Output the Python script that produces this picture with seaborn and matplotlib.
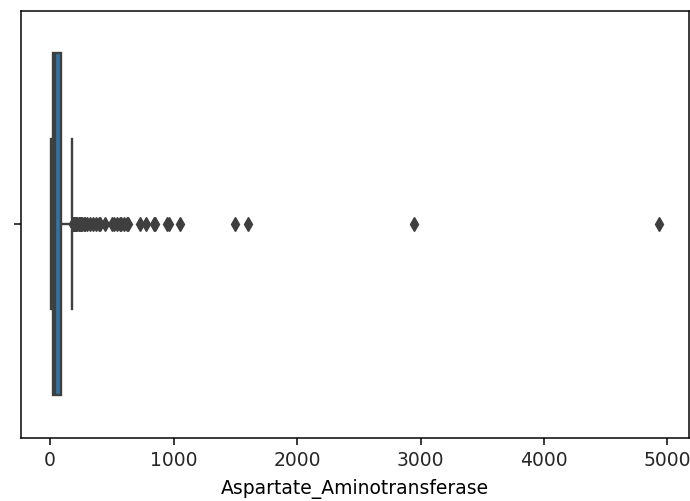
import matplotlib
matplotlib.use("Agg")
import matplotlib.pyplot as plt
import seaborn as sns
import numpy as np
import pandas as pd

# Distribution of Aspartate_Aminotransferase (value, count)
ast_values = [10, 15, 20, 25, 30, 35, 42, 50, 60, 70, 87, 100, 120, 150, 176]
ast_counts = [20, 30, 30, 40, 30, 30, 50, 30, 30, 30, 40, 20, 15, 10, 5]
# Outliers
ast_outliers = [182, 186, 190, 197, 200, 205, 210, 220, 230, 232, 245, 250, 260,
                275, 285, 298, 321, 350, 368, 397, 405, 441, 500, 515, 540, 566,
                575, 600, 623, 630, 730, 779, 844, 850, 950, 960, 1050, 1500,
                1600, 2946, 4929]

data = np.concatenate([np.repeat(ast_values, ast_counts), ast_outliers]).astype(float)
df = pd.DataFrame({"Aspartate_Aminotransferase": data})

s = 1.35
plt.rcParams.update({
    "font.size": 10 * s,
    "axes.linewidth": 0.8 * s,
    "xtick.major.size": 3.5 * s,
    "ytick.major.size": 3.5 * s,
    "xtick.major.width": 0.8 * s,
    "ytick.major.width": 0.8 * s,
    "xtick.major.pad": 5.0,
    "ytick.major.pad": 3.5 * s,
    "axes.labelpad": 6.5,
    "text.color": "#262626",
    "xtick.labelcolor": "#262626",
})

fig = plt.figure(figsize=(6.9, 5.01), dpi=100)
ax = fig.add_axes([0.0304, 0.1267, 0.9682, 0.8523])
sns.boxplot(x="Aspartate_Aminotransferase", data=df, ax=ax, color="#1f77b4",
            saturation=0.75, linecolor="#3f3f3f", linewidth=1.7,
            flierprops=dict(marker="d", markerfacecolor="#3f3f3f",
                            markeredgecolor="#3f3f3f", markersize=7.5))
ax.set_xlabel("Aspartate_Aminotransferase")
ax.set_yticks([0])
ax.set_yticklabels([""])
fig.savefig("out.png", dpi=100)
